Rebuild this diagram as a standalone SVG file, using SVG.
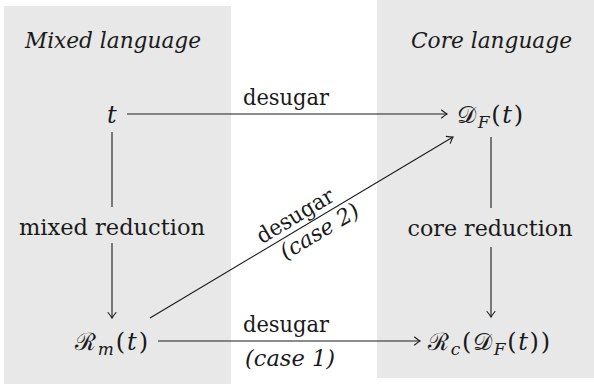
<svg xmlns="http://www.w3.org/2000/svg" width="594" height="384" viewBox="0 0 594 384" font-family="'DejaVu Serif', serif">
<style>
.bg{fill:#e8e8e8;stroke:none}
text{font-family:'DejaVu Serif',serif;font-size:22px;fill:#1a1a1a}
.it{font-style:italic}
.m{font-style:italic;font-size:24px}
.up{font-style:normal}
.scr{font-style:normal}
.sub{font-size:17px}
.ln{stroke:#1a1a1a;stroke-width:1.1;fill:none}
</style>
<defs>
<marker id="ah" markerUnits="userSpaceOnUse" markerWidth="12" markerHeight="12" refX="0" refY="0" viewBox="-8 -6 10 12" orient="auto" overflow="visible">
<path d="M-5.5,-4 Q-1.5,-0.8 0,0 Q-1.5,0.8 -5.5,4" fill="none" stroke="#1a1a1a" stroke-width="1.1" stroke-linecap="round"/>
</marker>
</defs>
<g id="regions">
<rect class="bg" x="4" y="6" width="227" height="378"/>
<rect class="bg" x="377" y="0" width="217" height="378"/>
<text class="it" x="25" y="48" textLength="176" lengthAdjust="spacingAndGlyphs">Mixed language</text>
<text class="it" x="411" y="48" textLength="161" lengthAdjust="spacingAndGlyphs">Core language</text>
</g>
<g id="node-t"><text class="m" x="107" y="123">t</text></g>
<g id="node-DF"><text class="m" x="457" y="123" textLength="66" lengthAdjust="spacing"><tspan class="scr">𝒟</tspan><tspan class="sub" dy="5">F</tspan><tspan class="up" dy="-5">(</tspan>t<tspan class="up">)</tspan></text></g>
<g id="node-Rm"><text class="m" x="75" y="350" textLength="73" lengthAdjust="spacing"><tspan class="scr">ℛ</tspan><tspan class="sub" dy="5">m</tspan><tspan class="up" dy="-5">(</tspan>t<tspan class="up">)</tspan></text></g>
<g id="node-Rc"><text class="m" x="428" y="350" textLength="122" lengthAdjust="spacing"><tspan class="scr">ℛ</tspan><tspan class="sub" dy="5">c</tspan><tspan class="up" dy="-5">(</tspan><tspan class="scr">𝒟</tspan><tspan class="sub" dy="5">F</tspan><tspan class="up" dy="-5">(</tspan>t<tspan class="up">))</tspan></text></g>
<g id="connectors">
<line class="ln" x1="127" y1="114" x2="447" y2="114" marker-end="url(#ah)"/>
<text x="286" y="105" text-anchor="middle" textLength="86" lengthAdjust="spacingAndGlyphs">desugar</text>
<line class="ln" x1="112" y1="132" x2="112" y2="207"/>
<line class="ln" x1="112" y1="243" x2="112" y2="318" marker-end="url(#ah)"/>
<text x="112" y="235" text-anchor="middle" textLength="186" lengthAdjust="spacingAndGlyphs">mixed reduction</text>
<line class="ln" x1="491" y1="137" x2="491" y2="208"/>
<line class="ln" x1="491" y1="247" x2="491" y2="317" marker-end="url(#ah)"/>
<text x="490" y="236" text-anchor="middle" textLength="165" lengthAdjust="spacingAndGlyphs">core reduction</text>
<line class="ln" x1="158" y1="341" x2="420" y2="341" marker-end="url(#ah)"/>
<text x="286" y="332" text-anchor="middle" textLength="86" lengthAdjust="spacingAndGlyphs">desugar</text>
<text class="it" x="290" y="366" text-anchor="middle" textLength="90" lengthAdjust="spacingAndGlyphs">(case 1)</text>
<line class="ln" x1="150" y1="318" x2="453" y2="137" marker-end="url(#ah)"/>
<g transform="translate(150,318) rotate(-30.85)">
<text x="177" y="-6" text-anchor="middle" textLength="86" lengthAdjust="spacingAndGlyphs">desugar</text>
<text class="it" x="190" y="20" text-anchor="middle" textLength="88" lengthAdjust="spacingAndGlyphs">(case 2)</text>
</g>
</g>
</svg>
